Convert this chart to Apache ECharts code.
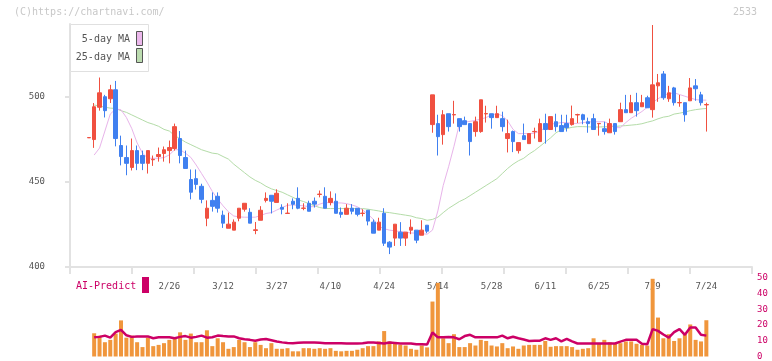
<!DOCTYPE html>
<html>
<head>
<meta charset="utf-8">
<script src="https://cdn.jsdelivr.net/npm/echarts/dist/echarts.min.js"></script>
<style>
html, body { margin: 0; padding: 0; background: #fff; }
#chart { width: 772px; height: 361px; }
</style>
</head>
<body>
<div id="chart"></div>
<script>
var myChart = echarts.init(document.getElementById('chart'));

const FONT = '"DejaVu Sans Mono", monospace';

// axis: 127 trading-day slots, candles start at slot 3
const slotCount = 127;
const dateLabels = ['2/26', '3/12', '3/27', '4/10', '4/24', '5/14', '5/28', '6/11', '6/25', '7/9', '7/24'];
const firstLabelSlot = 18;
const labelStep = 10;

// [open, close, low, high]
const candleStart = 3;
const candles = [
    [476, 476.2, 476, 476.2],
    [475, 494.3, 470.1, 496.5], [494, 502.5, 492, 511.5], [500.2, 492, 488, 501.3], [499, 504.3, 496.5, 507.2],
    [504.3, 475.6, 471, 509.5], [471.5, 465, 459.8, 477.3], [464.4, 461, 454, 471.5], [458.6, 468.5, 456.8, 475.6],
    [468.5, 461, 457, 471.5], [465.6, 461, 457, 468.5], [461, 468.5, 455, 468.5], [463.1, 463.4, 459.5, 465.6],
    [465, 466.2, 462, 470.3], [466.8, 469, 462, 470.9], [468.5, 470.3, 461, 474.4], [469.7, 482.6, 468.5, 484.4],
    [475.6, 465.6, 461, 480], [464.4, 458, 458, 468.5], [451.5, 444, 439.8, 457.4], [452, 448.6, 445.6, 457.4],
    [447.5, 439.8, 437.5, 449], [428.7, 434.6, 424, 439.2], [439.2, 435.7, 432.6, 443.9], [441.6, 434.6, 432, 443.9],
    [430.5, 425.8, 423, 433.2], [422.8, 425.2, 422.8, 432], [421.7, 426.4, 421.7, 428], [428.7, 434.6, 426.9, 434.6],
    [434, 437.5, 432.6, 437.5], [432.2, 425.8, 425.8, 434.6], [421.5, 421.9, 419.3, 426.5], [427.5, 433.4, 427.5, 435.8],
    [439.2, 440.4, 438, 443.9], [442.2, 438.7, 431.5, 442.2], [438, 443.4, 438, 445.7], [435.1, 434, 431, 436.9],
    [431.5, 431.7, 431.5, 437.5], [438.7, 436.9, 434, 440.4], [440.4, 434.6, 434, 446.9], [434.5, 434.7, 433.4, 437.5],
    [437.5, 432.8, 432.8, 439], [438.7, 437, 435, 440.9], [442.7, 442.9, 441, 445], [441.6, 434.6, 434.6, 446.9],
    [438, 440.4, 436.3, 444.5], [438.7, 431.6, 431.6, 443.3], [432.2, 431, 429, 435], [431, 434.6, 431, 437],
    [434.6, 432.8, 431, 437], [434.6, 431, 429.8, 434.6], [431.5, 431.7, 429.8, 434], [433.4, 427, 424.5, 433.4],
    [426.4, 419.9, 419.9, 428], [421.7, 426.4, 421.7, 429], [431.6, 414, 412.4, 434.6], [414.6, 411.7, 407.6, 415.2],
    [417, 425.2, 412.4, 425.2], [420.5, 417, 412.4, 426.4], [417, 420.5, 412.4, 420.5], [421.7, 423.4, 419.3, 428],
    [421.7, 415.8, 414, 421.7], [418.7, 421.7, 418.7, 427.5], [424.6, 421.1, 419.9, 424.6], [483.8, 501.3, 479, 501.3],
    [484.4, 476.7, 465.6, 489.6], [477.9, 489.6, 472, 492.3], [490.2, 482.6, 479.7, 490.2], [489.5, 489.7, 484.4, 497.8],
    [487.3, 482.6, 479.7, 487.3], [486.1, 483.8, 483.8, 488.5], [484.4, 473.8, 465.6, 484.4], [479.7, 485.5, 476.7, 488.5],
    [479.7, 498.4, 479, 498.4], [490.1, 490.3, 485, 494.9], [490.2, 487.9, 481.4, 490.2], [487.9, 490.2, 487.9, 494.9],
    [487.3, 482.6, 479.7, 491.4], [475.6, 478.5, 467.4, 486.7], [479.7, 473.8, 467.6, 480.3], [468.5, 473.2, 466.8, 473.2],
    [477.3, 475, 475, 484.4], [472.6, 478.5, 472.6, 478.5], [479.6, 479.8, 475.6, 482], [473.8, 484.4, 473.8, 487.3],
    [484.4, 480.9, 472.6, 490.2], [480.9, 488.5, 480.9, 488.5], [485.5, 482.6, 479.7, 490.2], [483.2, 479.7, 479.7, 489.6],
    [484.4, 482, 479.7, 489.6], [483.8, 487.3, 483.2, 495], [489.5, 489.7, 484.7, 490.2], [489.6, 486.7, 484, 490.2],
    [485.5, 484.4, 479, 487.9], [487.3, 480.9, 480.9, 490.2], [484.3, 484.5, 477.3, 484.5], [481.4, 479.7, 477.9, 485.5],
    [479, 484.4, 479, 487.3], [484.4, 479.7, 477.9, 484.4], [485.5, 492.6, 485.5, 496.7], [492.6, 490.8, 490.8, 501.3],
    [490.8, 496.7, 490.8, 501.3], [496.7, 492, 488.5, 502.5], [494.3, 496.7, 494.3, 501.3], [499.6, 493.7, 493.7, 500.8],
    [492.6, 507.2, 487.9, 542.4], [506.6, 508.4, 497.2, 513.6], [513.6, 499.6, 498.4, 515.3], [499, 502.5, 497.2, 506.6],
    [505.4, 496.7, 495, 506], [496.6, 496.8, 494.3, 501.3], [496.7, 489.6, 485.5, 496.7], [497.8, 505.4, 497.8, 511.2],
    [506.6, 504.9, 497.8, 510.6], [501.3, 496.7, 495, 503.1], [495.4, 495.6, 479.7, 496.7]
];

// the following series start at slot 4
const seriesStart = 4;
const ma5 = [
    465.9, 470, 480, 490, 493, 492.5, 488, 481.5, 473, 467, 464, 464, 464, 464.4, 466, 469, 469, 467, 464.5, 460,
    455, 450, 444.5, 440, 436, 432.5, 430, 429.5, 429.3, 429.3, 429.3, 430.3, 431.5, 432, 433.5, 435, 436.3, 436.5, 436.3, 436,
    435.5, 435.5, 437, 438, 437.8, 437.7, 437.7, 437.3, 436.5, 435.5, 433.5, 431, 428, 424, 422.5, 421.7, 421.3, 420.8, 420.5, 420,
    420, 419.6, 419.3, 421.7, 433, 448, 459, 471, 484, 485.3, 485.7, 486.3, 487, 488, 489.5, 490.2, 489, 486, 481, 478.5,
    478.5, 478.5, 478.7, 480, 482, 484, 484.5, 485, 485, 484.5, 484.5, 485, 485.3, 485.5, 485.5, 485.5, 484, 482, 482, 485,
    487.5, 489.5, 491.5, 494, 496.8, 499, 501, 502, 502.5, 501.5, 500.5, 499.5, 498.5, 498.2, 498.2
];
const ma25 = [
    495.3, 494.8, 494, 493.5, 493.3, 492, 491, 489.5, 488, 486.5, 485, 484, 482.8, 481, 480, 477.3, 475.5, 473.5, 472, 470.5,
    469, 468, 467, 466.6, 465, 463.5, 460.5, 458, 455.5, 453, 451, 449.5, 447.5, 446, 445, 444, 442.5, 441, 439.5, 438.5,
    437.3, 436, 435, 434.4, 434.4, 434.4, 434.4, 434.4, 434.4, 434.4, 434.4, 434, 433.5, 433, 432.3, 432, 431.5, 431, 430.5, 430,
    429, 428.5, 427.5, 428, 429.3, 432, 434.5, 436.5, 438.5, 440, 442, 444, 446, 448, 450, 452, 455, 458, 460.5, 462.5,
    464, 466.5, 468.5, 471, 473.5, 476, 479, 480.8, 481.5, 482.2, 482.6, 482.6, 482.5, 482.3, 482.4, 482.5, 482.6, 482.7, 483, 483.2,
    483.5, 483.8, 484.3, 485.2, 486, 487.2, 488.2, 488.7, 490, 490.5, 491.2, 492, 492.6, 493, 493.3
];
const volume = [
    14.8, 13.3, 9.1, 10.6, 14.6, 23, 12, 13.3, 9.1, 6, 12, 6.6, 7.4, 8.5, 10.6, 12, 15.4, 10.6, 14.6, 9.1,
    9.1, 16.7, 6.6, 11.6, 9.1, 4.9, 6, 10.6, 9.1, 6, 9.1, 7.4, 5.3, 8.5, 4.9, 4.9, 5.3, 3.3, 3.3, 5.3,
    5.3, 4.9, 5.3, 4.9, 5.3, 3.6, 3.3, 3.6, 3.6, 4.3, 5.3, 6.6, 6.6, 9.6, 16.2, 9.6, 8.5, 7.4, 7, 4.9,
    4.3, 7, 5.8, 35, 46.9, 11.6, 8.5, 14.2, 6, 6, 8.5, 7, 10.6, 9.9, 7, 6.4, 8.5, 5.3, 6.4, 4.9,
    7, 7.4, 7.4, 7.4, 9.9, 6.2, 6.6, 6.6, 6.6, 6, 4.3, 4.9, 5.3, 11.6, 8.5, 10.6, 9.1, 8.1, 8.5, 9.6,
    9.6, 8.1, 7.4, 7, 49.5, 24.8, 11.6, 14.2, 9.9, 11.6, 14.2, 20.4, 10.6, 9.6, 23.1
];
const aiPredict = [
    12.2, 12.5, 13.3, 12, 15.5, 16.9, 13.5, 12.5, 12.8, 12.8, 12.8, 11.6, 12.2, 12.2, 12.2, 11.6, 12.5, 13, 12, 12.5,
    13.3, 12, 12.3, 13.3, 13, 12.8, 12.8, 11.6, 11, 10.6, 10, 10.8, 11.2, 10.4, 9.6, 9, 8.6, 8.5, 8.7, 8.9,
    8.9, 8.9, 8.7, 8.5, 8.5, 8.5, 8.4, 8.3, 8.3, 8.3, 8.5, 8.9, 8.9, 8.6, 8.3, 8.9, 8.6, 8.3, 8.3, 8.3,
    7.8, 7.8, 7.6, 15.3, 12.2, 12.2, 12.4, 12.2, 11, 13, 13.8, 12.2, 12.2, 12.2, 12.2, 12.2, 13.3, 11.6, 12.6, 11.6,
    10.8, 9.9, 10, 10.1, 11.6, 10.6, 11.6, 9.6, 11.2, 9.6, 8.3, 8.3, 8.3, 8.3, 8.3, 8.3, 8.3, 8.3, 9.5, 10.6,
    10.6, 10.6, 8.1, 7.8, 17.4, 16.3, 14, 12, 15.5, 17.4, 13.8, 18.5, 18.5, 13.8, 13.3
];

const categories = [];
for (let i = 0; i < slotCount; i++) categories.push(String(i));

const pad = (arr, start) => {
    const out = [];
    for (let i = 0; i < slotCount; i++) {
        const v = arr[i - start];
        out.push(v === undefined ? '-' : v);
    }
    return out;
};

const isLabelSlot = (i) => i >= firstLabelSlot && (i - firstLabelSlot) % labelStep === 0;

option = {
    animation: false,
    backgroundColor: '#fff',
    grid: [
        { left: 70, right: 20, top: 24, bottom: 94 },
        { left: 70, right: 20, top: 278, bottom: 2.5 }
    ],
    xAxis: [
        {
            type: 'category',
            gridIndex: 0,
            position: 'bottom',
            data: categories,
            boundaryGap: true,
            axisLine: { show: false },
            axisTick: { show: false },
            axisLabel: {
                interval: (index) => isLabelSlot(index),
                formatter: (value, index) => isLabelSlot(index) ? dateLabels[(index - firstLabelSlot) / labelStep] : '',
                color: '#555',
                fontFamily: FONT,
                fontSize: 9,
                margin: 15
            },
            splitLine: { show: false }
        },
        {
            // plain tick ruler along the bottom of the price panel
            type: 'value',
            gridIndex: 0,
            position: 'bottom',
            min: 0,
            max: 11,
            interval: 1,
            axisLine: { show: true, lineStyle: { color: '#e2e2e2', width: 2 } },
            axisTick: { show: true, length: 7, lineStyle: { color: '#e2e2e2', width: 2 } },
            axisLabel: { show: false },
            splitLine: { show: false }
        },
        {
            type: 'category',
            gridIndex: 1,
            data: categories,
            boundaryGap: true,
            show: false
        }
    ],
    yAxis: [
        {
            type: 'value',
            gridIndex: 0,
            min: 400,
            max: 543,
            interval: 50,
            axisLine: { show: true, lineStyle: { color: '#e2e2e2', width: 2 } },
            axisTick: { show: true, length: 5, lineStyle: { color: '#e2e2e2', width: 2 } },
            axisLabel: { color: '#555', fontFamily: FONT, fontSize: 9, margin: 25, showMaxLabel: false },
            splitLine: { show: false }
        },
        {
            type: 'value',
            gridIndex: 1,
            position: 'right',
            min: 0,
            max: 50,
            interval: 10,
            axisLine: { show: false },
            axisTick: { show: false },
            axisLabel: { color: '#cc0066', fontFamily: FONT, fontSize: 9, margin: 5 },
            splitLine: { show: false }
        }
    ],
    series: [
        {
            name: '25-day MA',
            type: 'line',
            xAxisIndex: 0,
            yAxisIndex: 0,
            data: pad(ma25, seriesStart),
            symbol: 'none',
            lineStyle: { color: '#b4dca8', width: 1 },
            z: 2
        },
        {
            name: '5-day MA',
            type: 'line',
            xAxisIndex: 0,
            yAxisIndex: 0,
            data: pad(ma5, seriesStart),
            symbol: 'none',
            lineStyle: { color: '#e8b4ea', width: 1 },
            z: 2
        },
        {
            name: 'price',
            type: 'candlestick',
            xAxisIndex: 0,
            yAxisIndex: 0,
            data: pad(candles, candleStart),
            barWidth: 4,
            itemStyle: {
                color: '#f05040',
                color0: '#4080f0',
                borderColor: '#f05040',
                borderColor0: '#4080f0',
                borderWidth: 1
            },
            z: 3
        },
        {
            name: 'volume',
            type: 'bar',
            xAxisIndex: 2,
            yAxisIndex: 1,
            data: pad(volume, seriesStart),
            barWidth: 4,
            itemStyle: { color: '#f0963c' }
        },
        {
            name: 'AI-Predict',
            type: 'line',
            xAxisIndex: 2,
            yAxisIndex: 1,
            data: pad(aiPredict, seriesStart),
            symbol: 'none',
            lineStyle: { color: '#cc0066', width: 2.5 },
            z: 4
        }
    ],
    graphic: [
        { type: 'text', x: 14, y: 12, style: { text: '(C)https://chartnavi.com/', fill: '#c8c8c8', font: '10px ' + FONT, textVerticalAlign: 'middle' } },
        { type: 'text', x: 757, y: 12, style: { text: '2533', fill: '#c8c8c8', font: '10px ' + FONT, textAlign: 'right', textVerticalAlign: 'middle' } },
        // price legend box
        { type: 'rect', z: 10, shape: { x: 70.5, y: 24.5, width: 78, height: 47 }, style: { fill: '#fff', stroke: '#e0e0e0', lineWidth: 1 } },
        { type: 'text', z: 11, x: 130, y: 39, style: { text: '5-day MA', fill: '#555', font: '10px ' + FONT, textAlign: 'right', textVerticalAlign: 'middle' } },
        { type: 'rect', z: 11, shape: { x: 136.5, y: 31.5, width: 6, height: 14 }, style: { fill: '#ecb8ec', stroke: '#555', lineWidth: 1 } },
        { type: 'text', z: 11, x: 130, y: 57, style: { text: '25-day MA', fill: '#555', font: '10px ' + FONT, textAlign: 'right', textVerticalAlign: 'middle' } },
        { type: 'rect', z: 11, shape: { x: 136.5, y: 48.5, width: 6, height: 14 }, style: { fill: '#bcdcb0', stroke: '#555', lineWidth: 1 } },
        // AI legend
        { type: 'text', z: 11, x: 76, y: 286, style: { text: 'AI-Predict', fill: '#cc0066', font: '10px ' + FONT, textVerticalAlign: 'middle' } },
        { type: 'rect', z: 11, shape: { x: 142, y: 277, width: 7, height: 16 }, style: { fill: '#cc0066' } }
    ]
};

myChart.setOption(option);
</script>
</body>
</html>
